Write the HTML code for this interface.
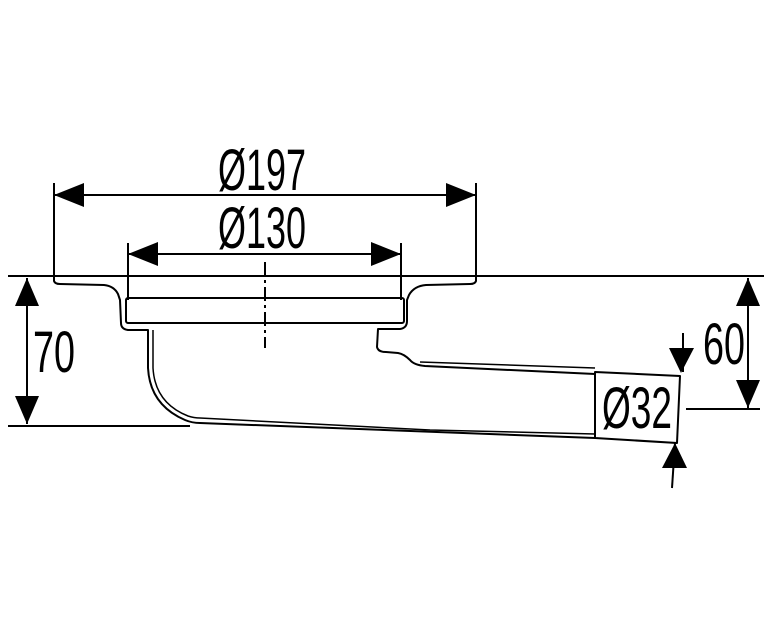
<!DOCTYPE html>
<html><head><meta charset="utf-8"><style>html,body{margin:0;padding:0;background:#fff}svg{display:block}</style></head><body>
<svg width="764" height="626" viewBox="0 0 764 626" xmlns="http://www.w3.org/2000/svg">
<g stroke="#000" stroke-width="2" fill="none" stroke-linejoin="round">
<!-- reference lines -->
<line x1="8" y1="276" x2="764" y2="276"/>
<line x1="8" y1="426" x2="190" y2="426"/>
<!-- extension lines -->
<line x1="54" y1="183" x2="54" y2="278"/>
<line x1="476" y1="183" x2="476" y2="278"/>
<line x1="128" y1="243" x2="128" y2="300"/>
<line x1="401" y1="243" x2="401" y2="300"/>
<!-- dim lines -->
<line x1="54" y1="195" x2="476" y2="195"/>
<line x1="128" y1="254" x2="401" y2="254"/>
<line x1="27" y1="278" x2="27" y2="424"/>
<line x1="748" y1="278" x2="748" y2="408"/>
<line x1="686" y1="409" x2="760" y2="409"/>
<line x1="683" y1="333" x2="683" y2="372"/>
<line x1="675" y1="443" x2="672" y2="488"/>
<!-- body outer -->
<path d="M54 277 L54 281 Q55 284 60 284 L104 285 Q114 286 118 294 L120 300 L121 323 Q121 329 128 330 L148 330 L148 368 Q150 405 185 420 Q192 423 200 423 L595 438"/>
<path d="M476 277 L476 281 Q475 284 470 284 L426 285 Q414 286 409 295 L407 300 L407 321 Q407 328 400 329 L378 329 L377 347 Q378 352 386 352 L398 353 Q404 354 410 360 Q414 365 425 366 L595 374"/>
<!-- inner ring -->
<rect x="126" y="298" width="278" height="25" rx="2"/>
<!-- pipe inner line -->
<path d="M153 330 L153 368 Q155 403 188 416 Q194 418 200 418 L430 430 L595 434" stroke-width="1.5"/>
<path d="M420 362 L595 368" stroke-width="1.5"/>
<!-- pipe end box -->
<path d="M595 372 L680 376 L677 443 L595 438 Z"/>
<!-- centerline -->
<line x1="265" y1="262" x2="265" y2="348" stroke-dasharray="14 4 3 4"/>
</g>
<g fill="#000">
<!-- Ø197 arrows -->
<polygon points="54,195 84,183 84,207"/>
<polygon points="476,195 446,183 446,207"/>
<polygon points="128,254 158,242 158,266"/>
<polygon points="401,254 371,242 371,266"/>
<polygon points="27,278 15,306 39,306"/>
<polygon points="27,424 15,396 39,396"/>
<polygon points="748,278 736,306 760,306"/>
<polygon points="748,408 736,380 760,380"/>
<polygon points="681,373 669,348 694,348"/>
<polygon points="675,443 662,468 687,468"/>
</g>
<g font-family="'Liberation Sans Narrow','Liberation Sans',sans-serif" font-size="58" fill="#000">
<text x="218" y="190" textLength="88" lengthAdjust="spacingAndGlyphs">Ø197</text>
<text x="218" y="248" textLength="88" lengthAdjust="spacingAndGlyphs">Ø130</text>
<text x="33" y="372" textLength="42" lengthAdjust="spacingAndGlyphs">70</text>
<text x="703" y="364" textLength="42" lengthAdjust="spacingAndGlyphs">60</text>
<text x="602" y="428" textLength="70" lengthAdjust="spacingAndGlyphs">Ø32</text>
</g>
</svg>
</body></html>
